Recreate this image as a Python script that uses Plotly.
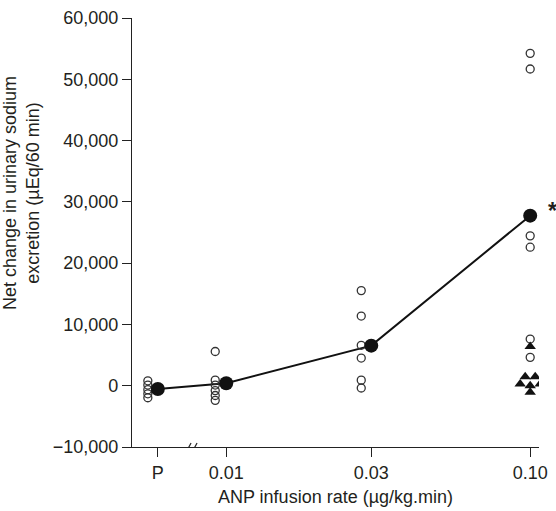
import numpy as np
import plotly.graph_objects as go

# ---- data ----
group_labels = ["P", "0.01", "0.03", "0.10"]
doses = [None, 0.01, 0.03, 0.10]          # P = placebo
placebo_pos = -2.225                       # log10 position used for placebo on the axis

individual_open = {
    "P":    [800, 110, -640, -1320, -1960],
    "0.01": [5580, 910, 110, -800, -1600, -2390],
    "0.03": [15520, 11370, 6590, 4510, 910, -370],
    "0.10": [54230, 51680, 24450, 22600, 7610, 4625],
}
triangles_010 = [6380, 1480, 1480, 270, 0, 270, -1070]
triangle_jitter_px = [0, -5, 5, -10, 0, 10, 0]
means = [-530, 400, 6540, 27750]

y_ticks = [-10000, 0, 10000, 20000, 30000, 40000, 50000, 60000]

# ---- layout constants ----
W, H = 556, 511
ML, MR, MT, MB = 132, 17, 8, 64
x_range = [-2.310, -0.971]
y_range = [-10000, 60000]
plot_w = W - ML - MR
dec_per_px = (x_range[1] - x_range[0]) / plot_w

FONT = "Liberation Sans, Arial, sans-serif"
TXT = "#231f20"
FS = 18

xpos = [placebo_pos] + [float(np.log10(d)) for d in doses[1:]]
open_offset_px = {"P": -10, "0.01": -11, "0.03": -10, "0.10": 0}

fig = go.Figure()

# mean line
fig.add_trace(go.Scatter(x=xpos, y=means, mode="lines",
                         line=dict(color="#111", width=2), hoverinfo="skip"))

# open circles
ox, oy = [], []
for lab, xp in zip(group_labels, xpos):
    vals = individual_open[lab]
    ox += [xp + open_offset_px[lab] * dec_per_px] * len(vals)
    oy += vals
fig.add_trace(go.Scatter(x=ox, y=oy, mode="markers",
                         marker=dict(symbol="circle-open", size=8, color="#333",
                                     line=dict(width=1.3, color="#333"))))

# triangles at 0.10
tx = [xpos[3] + j * dec_per_px for j in triangle_jitter_px]
fig.add_trace(go.Scatter(x=tx, y=triangles_010, mode="markers",
                         marker=dict(symbol="triangle-up", size=10, color="#111")))

# means
fig.add_trace(go.Scatter(x=xpos, y=means, mode="markers",
                         marker=dict(symbol="circle", size=14, color="#111")))

# asterisk
fig.add_annotation(x=xpos[3], y=means[3], text="<b>*</b>", showarrow=False,
                   xshift=22, yshift=5, font=dict(size=23, color=TXT, family=FONT))

# y-axis title (two lines)
fig.add_annotation(xref="paper", yref="paper", x=0, y=0.592, xshift=-111,
                   text="Net change in urinary sodium<br>excretion (µEq/60 min)",
                   textangle=-90, showarrow=False, xanchor="center", yanchor="middle",
                   font=dict(size=FS, color=TXT, family=FONT))

# axis break marks
x_break = (xpos[0] + xpos[1]) / 2
for a, b in [(-5, -1), (1, 5)]:
    fig.add_shape(type="line", xref="x", yref="y", xsizemode="pixel", ysizemode="pixel",
                  xanchor=x_break, yanchor=y_range[0], x0=a, x1=b, y0=-3.5, y1=4,
                  line=dict(color="#222", width=1.2))

fig.update_layout(
    width=W, height=H, margin=dict(l=ML, r=MR, t=MT, b=MB),
    plot_bgcolor="white", paper_bgcolor="white", showlegend=False,
    font=dict(family=FONT, size=FS, color=TXT),
    xaxis=dict(range=x_range, tickvals=xpos, ticktext=group_labels,
               showgrid=False, zeroline=False, showline=True, linecolor="#222",
               linewidth=1.2, ticks="outside", ticklen=9, tickcolor="#222",
               ticklabeloverflow="allow",
               title=dict(text="ANP infusion rate (µg/kg.min)", standoff=8,
                          font=dict(size=FS, color=TXT))),
    yaxis=dict(range=y_range, tickvals=y_ticks, tickformat=",",
               showgrid=False, zeroline=False, showline=True, linecolor="#222",
               linewidth=1.2, ticks="outside", ticklen=9, tickcolor="#222",
               ticklabeloverflow="allow"),
)

fig.write_html("out.html", config={"displayModeBar": False},
               post_script="document.body.style.margin='0';")
